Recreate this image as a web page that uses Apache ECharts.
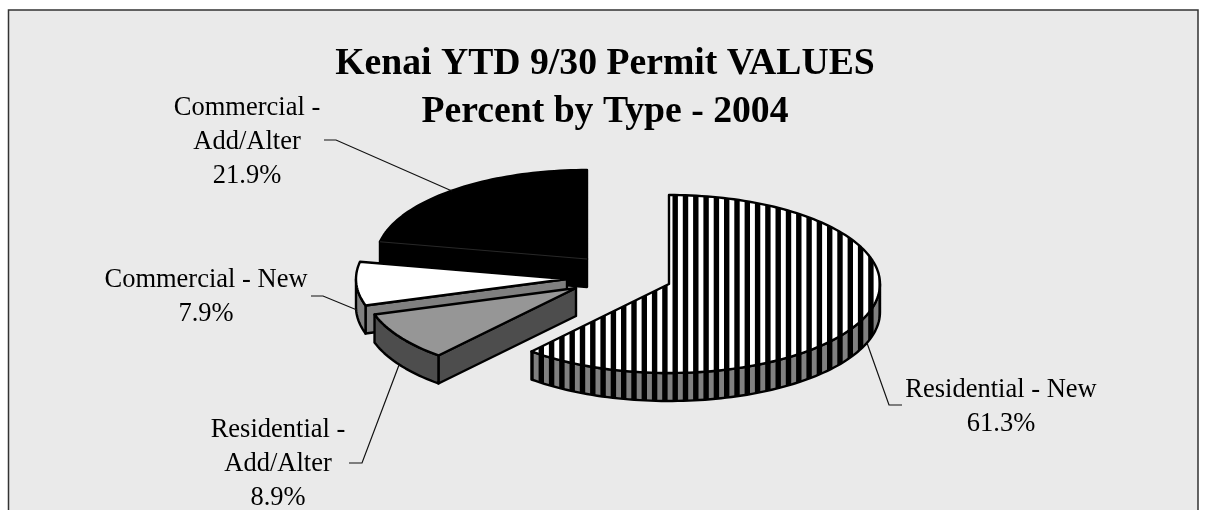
<!DOCTYPE html>
<html>
<head>
<meta charset="utf-8">
<style>
  html, body { margin: 0; padding: 0; background: #fff; overflow: hidden; }
  #chart { width: 1206px; height: 510px; }
</style>
<script src="https://cdn.jsdelivr.net/npm/echarts@6/dist/echarts.min.js"></script>
</head>
<body>
<div id="chart"></div>
<script>
  // clockwise from 12 o'clock
  var categories = ['Residential - New', 'Residential - Add/Alter', 'Commercial - New', 'Commercial - Add/Alter'];
  var percents = [61.3, 8.9, 7.9, 21.9];
  var labelLines = [
    ['Residential - New'],
    ['Residential -', 'Add/Alter'],
    ['Commercial - New'],
    ['Commercial -', 'Add/Alter']
  ];
  var titleLines = ['Kenai YTD 9/30 Permit VALUES', 'Percent by Type - 2004'];

  // look of each slice, same order as categories
  var RX = 211, RY = 89, DEPTH = 28;
  var sliceLook = [
    { cx: 669, cy: 284, z: 10, top: stripes('#fff'), wall: stripes('#808080'), radial: false },
    { cx: 576, cy: 288, z: 8, top: '#969696', wall: '#4d4d4d', radial: true },
    { cx: 567, cy: 279, z: 6, top: '#fff', wall: '#808080', radial: true },
    { cx: 587, cy: 259, z: 4, top: '#000', wall: '#000', radial: true }
  ];
  var labelLook = [
    { x: 1001, y: 373, line: [[867, 343], [889, 405], [902, 405]] },
    { x: 278, y: 413, line: [[399, 365], [362, 463], [349, 463]] },
    { x: 206, y: 263, line: [[357, 310], [323, 296], [311, 296]] },
    { x: 247, y: 91, line: [[452, 191], [336, 140], [324, 140]] }
  ];

  // vertical stripes, 10 of them in 103px so the period stays 10.3px
  function stripes(gap) {
    var c = document.createElement('canvas');
    c.width = 103;
    c.height = 8;
    var ctx = c.getContext('2d');
    ctx.fillStyle = gap;
    ctx.fillRect(0, 0, 103, 8);
    ctx.fillStyle = '#000';
    for (var i = 0; i < 10; i++) {
      // 685.5 is the centre of a black stripe in the picture, 685.5 % 103 = 67.5
      var left = (67.5 + i * 10.3 - 2.7 + 103) % 103;
      ctx.fillRect(left, 0, 5.4, 8);
      if (left + 5.4 > 103) ctx.fillRect(left - 103, 0, 5.4, 8);
    }
    return { image: c, repeat: 'repeat' };
  }

  function rim(look, deg, drop) {
    var a = deg * Math.PI / 180;
    return [look.cx + RX * Math.sin(a), look.cy - RY * Math.cos(a) + (drop || 0)];
  }

  function arc(look, from, to, drop) {
    var pts = [];
    var n = Math.max(2, Math.ceil(Math.abs(to - from) / 1.5));
    for (var i = 0; i <= n; i++) pts.push(rim(look, from + (to - from) * i / n, drop));
    return pts;
  }

  function poly(points, fill, z2) {
    return {
      type: 'polygon',
      z2: z2,
      shape: { points: points },
      style: { fill: fill, stroke: '#000', lineWidth: 2.4, lineJoin: 'round' }
    };
  }

  var total = percents.reduce(function (a, b) { return a + b; }, 0);

  function renderSlice(params, api) {
    var i = params.dataIndex;
    var before = 0;
    for (var k = 0; k < i; k++) before += percents[k];
    var start = before / total * 360;
    var end = (before + api.value(0)) / total * 360;
    var look = sliceLook[i];
    var kids = [];

    // side facing the viewer along the cut edge
    if (look.radial) {
      var p = rim(look, start);
      kids.push(poly([[look.cx, look.cy], p, [p[0], p[1] + DEPTH], [look.cx, look.cy + DEPTH]], look.wall, look.z));
    }
    // outer rim, only the front half of the ellipse shows
    var a = Math.max(start, 90), b = Math.min(end, 270);
    if (b > a) {
      kids.push(poly(arc(look, a, b).concat(arc(look, b, a, DEPTH)), look.wall, look.z));
    }
    // top face
    kids.push(poly([[look.cx, look.cy]].concat(arc(look, start, end)), look.top, look.z + 1));
    // thin lighter seam the black slice shows between top and side
    if (look.top === '#000') {
      kids.push({
        type: 'line',
        z2: look.z + 1,
        shape: { x1: look.cx, y1: look.cy, x2: rim(look, start)[0], y2: rim(look, start)[1] },
        style: { stroke: '#3a3a3a', lineWidth: 0.7 }
      });
    }

    // label and leader
    var lab = labelLook[i];
    kids.push({
      type: 'polyline',
      z2: 20,
      shape: { points: lab.line },
      style: { fill: null, stroke: '#111', lineWidth: 1.2 }
    });
    kids.push({
      type: 'text',
      z2: 20,
      style: {
        text: labelLines[i].concat(api.value(0).toFixed(1) + '%').join('\n'),
        x: lab.x,
        y: lab.y,
        align: 'center',
        verticalAlign: 'top',
        font: '26.5px "Liberation Serif"',
        lineHeight: 34,
        fill: '#000'
      }
    });
    return { type: 'group', children: kids };
  }

  var chart = echarts.init(document.getElementById('chart'));
  chart.setOption({
    animation: false,
    backgroundColor: '#fff',
    title: {
      text: titleLines.join('\n'),
      left: 600,
      top: 35,
      textAlign: 'center',
      textStyle: {
        fontFamily: 'Liberation Serif',
        fontWeight: 'bold',
        fontSize: 37.7,
        lineHeight: 48,
        color: '#000'
      }
    },
    graphic: [{
      type: 'rect',
      z: -10,
      shape: { x: 8.5, y: 10, width: 1189.5, height: 540 },
      style: { fill: '#eaeaea', stroke: '#333', lineWidth: 1.5 }
    }],
    series: [{
      type: 'custom',
      name: 'Permit values',
      coordinateSystem: 'none',
      silent: true,
      clip: false,
      data: percents.map(function (v, i) { return { name: categories[i], value: [v] }; }),
      renderItem: renderSlice
    }]
  });
</script>
</body>
</html>
